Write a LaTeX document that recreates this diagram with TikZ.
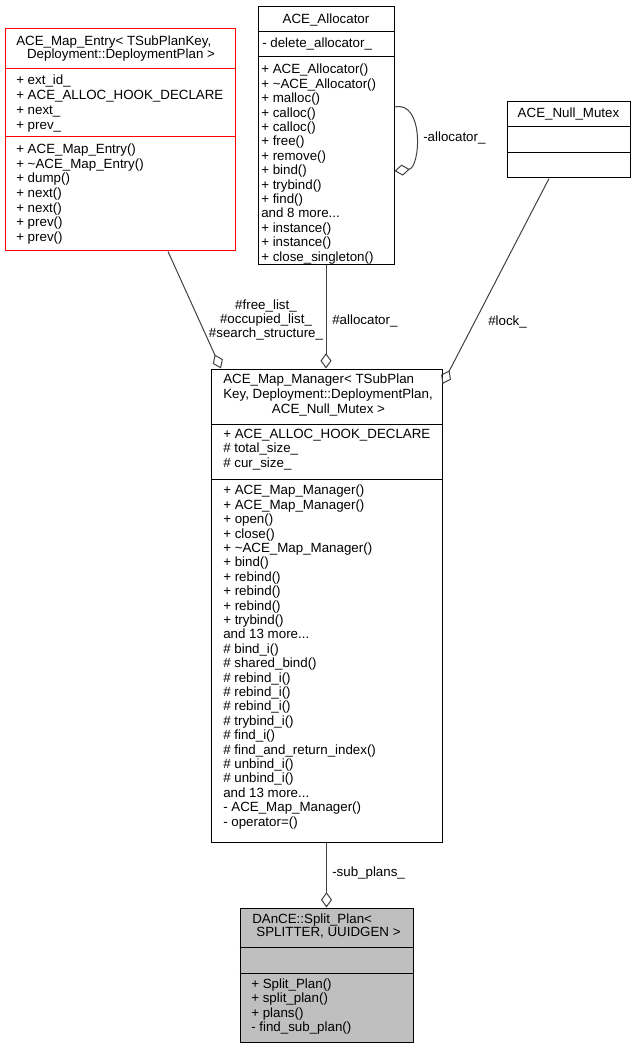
\documentclass[tikz,border=0pt]{standalone}
\usepackage{fontspec}
\setmainfont{Liberation Sans}
\usepackage{tikz}
\usetikzlibrary{arrows.meta,calc,fit}
\definecolor{grey25}{HTML}{404040}
\definecolor{splitgray}{HTML}{BFBFBF}

\begin{document}
\begin{tikzpicture}[x=0.75pt,y=-0.75pt,
  classbox/.style={draw=black,line width=0.75pt,inner sep=0pt},
  classname/.style={inner sep=0pt,font=\fontsize{10}{10.8}\selectfont},
  member/.style={anchor=west,align=left,inner sep=0pt,font=\fontsize{10}{10.8}\selectfont},
  edge/.style={draw=grey25,line width=0.75pt,-{Diamond[open,length=11.5pt,width=8.3pt]}},
  edgelabel/.style={inner sep=0pt,align=center,font=\fontsize{10}{10.8}\selectfont}]
\useasboundingbox (0,0) rectangle (636,1048);

% ACE_Map_Entry
\node[classbox,draw=red,fit={(5,29) (235,251)}] (entry) {};
\draw[red,line width=0.75pt] (entry.west |- 0,69) -- (entry.east |- 0,69);
\draw[red,line width=0.75pt] (entry.west |- 0,137) -- (entry.east |- 0,137);
\node[classname,anchor=west] (entryname1) at (16,42) {ACE\_Map\_Entry< TSubPlanKey,};
\node[classname] (entryname2) at (121,55) {Deployment::DeploymentPlan >};
\node[member,font=\fontsize{10}{11.2}\selectfont] (entryattr) at (16,103.5) {+ ext\_id\_\\+ ACE\_ALLOC\_HOOK\_DECLARE\\+ next\_\\+ prev\_};
\node[member,font=\fontsize{10}{11}\selectfont] (entryops) at (16,194) {+ ACE\_Map\_Entry()\\+ \textasciitilde ACE\_Map\_Entry()\\+ dump()\\+ next()\\+ next()\\+ prev()\\+ prev()};

% ACE_Allocator
\node[classbox,fit={(258,7) (394,265)}] (alloc) {};
\draw[line width=0.75pt] (alloc.west |- 0,32) -- (alloc.east |- 0,32);
\draw[line width=0.75pt] (alloc.west |- 0,57) -- (alloc.east |- 0,57);
\node[classname] (allocname) at (326,19.5) {ACE\_Allocator};
\node[member] (allocattr) at (262,44) {- delete\_allocator\_};
\node[member] (allocops) at (261,164) {+ ACE\_Allocator()\\+ \textasciitilde ACE\_Allocator()\\+ malloc()\\+ calloc()\\+ calloc()\\+ free()\\+ remove()\\+ bind()\\+ trybind()\\+ find()\\and 8 more...\\+ instance()\\+ instance()\\+ close\_singleton()};

% ACE_Null_Mutex
\node[classbox,fit={(507,102) (630,178)}] (mutex) {};
\draw[line width=0.75pt] (mutex.west |- 0,127) -- (mutex.east |- 0,127);
\draw[line width=0.75pt] (mutex.west |- 0,153) -- (mutex.east |- 0,153);
\node[classname] (mutexname) at (568.5,114) {ACE\_Null\_Mutex};

% ACE_Map_Manager
\node[classbox,fit={(211,369) (442,842)}] (mgr) {};
\draw[line width=0.75pt] (mgr.west |- 0,424) -- (mgr.east |- 0,424);
\draw[line width=0.75pt] (mgr.west |- 0,479) -- (mgr.east |- 0,479);
\node[classname,anchor=west] (mgrname1) at (223,380.5) {ACE\_Map\_Manager< TSubPlan};
\node[classname,anchor=west] (mgrname2) at (223,395) {Key, Deployment::DeploymentPlan,};
\node[classname] (mgrname3) at (328.5,409.5) {ACE\_Null\_Mutex >};
\node[member] (mgrattr) at (223,449.5) {+ ACE\_ALLOC\_HOOK\_DECLARE\\\# total\_size\_\\\# cur\_size\_};
\node[member] (mgrops) at (223,657) {+ ACE\_Map\_Manager()\\+ ACE\_Map\_Manager()\\+ open()\\+ close()\\+ \textasciitilde ACE\_Map\_Manager()\\+ bind()\\+ rebind()\\+ rebind()\\+ rebind()\\+ trybind()\\and 13 more...\\\# bind\_i()\\\# shared\_bind()\\\# rebind\_i()\\\# rebind\_i()\\\# rebind\_i()\\\# trybind\_i()\\\# find\_i()\\\# find\_and\_return\_index()\\\# unbind\_i()\\\# unbind\_i()\\and 13 more...\\- ACE\_Map\_Manager()\\- operator=()};

% DAnCE::Split_Plan
\node[classbox,fill=splitgray,fit={(240,908) (413,1042)}] (split) {};
\draw[line width=0.75pt] (split.west |- 0,947) -- (split.east |- 0,947);
\draw[line width=0.75pt] (split.west |- 0,973) -- (split.east |- 0,973);
\node[classname,anchor=west] (splitname1) at (252,920) {DAnCE::Split\_Plan<};
\node[classname] (splitname2) at (328.5,933) {SPLITTER, UUIDGEN >};
\node[member] (splitops) at (251,1006.5) {+ Split\_Plan()\\+ split\_plan()\\+ plans()\\- find\_sub\_plan()};

% connectors
\draw[edge] ($(entry.south)+(48,0)$) -- ($(mgr.north)+(-105.5,0)$);
\draw[edge] (alloc.south) -- (alloc.south |- mgr.north);
\draw[edge] ($(mutex.south)+(-19.5,0)$) -- ($(mgr.east)+(0,-221.5)$);
\draw[edge] (mgr.south) -- (split.north);
\draw[edge] ($(alloc.east)+(0,-29)$) .. controls ($(alloc.east)+(30,-36)$) and ($(alloc.east)+(26,32)$) .. ($(alloc.east)+(0,35)$);

\node[edgelabel] (listsref) at (266,320) {\#free\_list\_\\\#occupied\_list\_\\\#search\_structure\_};
\node[edgelabel,anchor=west] (allocref) at (332,321) {\#allocator\_};
\node[edgelabel,anchor=west] (lockref) at (488,322) {\#lock\_};
\node[edgelabel,anchor=west] (selfref) at (423,138) {-allocator\_};
\node[edgelabel,anchor=west] (subref) at (332,873) {-sub\_plans\_};
\end{tikzpicture}
\end{document}
